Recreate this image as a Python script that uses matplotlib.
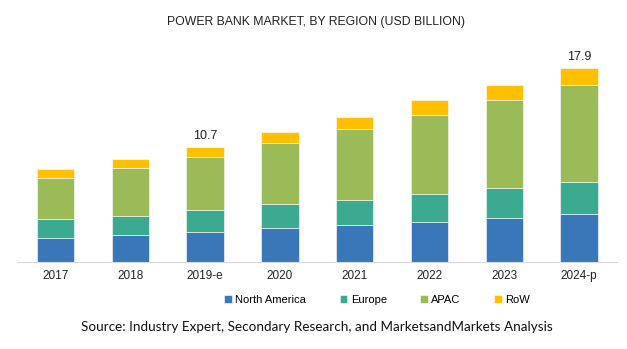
import matplotlib.pyplot as plt
import numpy as np

years = ["2017", "2018", "2019-e", "2020", "2021", "2022", "2023", "2024-p"]
north_america = [2.25, 2.53, 2.78, 3.12, 3.44, 3.73, 4.10, 4.42]
europe = [1.73, 1.76, 2.04, 2.22, 2.33, 2.54, 2.78, 2.96]
apac = [3.82, 4.42, 4.94, 5.68, 6.53, 7.34, 8.12, 9.01]
row = [0.78, 0.83, 0.93, 0.99, 1.08, 1.36, 1.42, 1.55]
totals_shown = {"2019-e": "10.7", "2024-p": "17.9"}

series = [("North America", north_america, "#3A77B9"),
          ("Europe", europe, "#3BAA90"),
          ("APAC", apac, "#9BBB59"),
          ("RoW", row, "#FFC000")]

plt.rcParams["font.family"] = ["Liberation Sans", "DejaVu Sans"]

fig = plt.figure(figsize=(6.27, 3.49), dpi=100)
W, H = 627, 349
ax = fig.add_axes([18 / W, 1 - 262 / H, (616.5 - 18) / W, (262 - 40) / H])

x = np.arange(len(years))
bottom = np.zeros(len(years))
handles = []
for name, vals, color in series:
    b = ax.bar(x, vals, 0.5, bottom=bottom, color=color, label=name,
               edgecolor="white", linewidth=0.4)
    handles.append(b)
    bottom += np.array(vals)

for i, yr in enumerate(years):
    if yr in totals_shown:
        ax.text(i, bottom[i] + 0.45, totals_shown[yr], ha="center", va="bottom",
                fontsize=9, color="#222222")

ax.set_xlim(-0.5, len(years) - 0.5)
ax.set_ylim(0, 222 / 10.8)
ax.set_xticks(x)
ax.set_xticklabels(years, fontsize=8.5, color="#222222")
ax.tick_params(axis="x", length=0, pad=6)
ax.set_yticks([])
for s in ["top", "right", "left"]:
    ax.spines[s].set_visible(False)
ax.spines["bottom"].set_color("#D9D9D9")

fig.text(316 / W, 1 - 22 / H, "POWER BANK MARKET, BY REGION (USD BILLION)",
         ha="center", va="center", fontsize=8.8, color="#222222")

leg = fig.legend(handles=handles, loc="center", bbox_to_anchor=(377 / W, 1 - 300 / H),
                 ncol=4, frameon=False, fontsize=8, handlelength=0.7, handleheight=0.7,
                 handletextpad=0.3, columnspacing=3.0)

fig.text(317 / W, 1 - 327 / H,
         "Source: Industry Expert, Secondary Research, and MarketsandMarkets Analysis",
         ha="center", va="center", fontsize=9.7, family=["Lato", "DejaVu Sans"],
         color="#111111")

fig.savefig("out.png", dpi=100)
